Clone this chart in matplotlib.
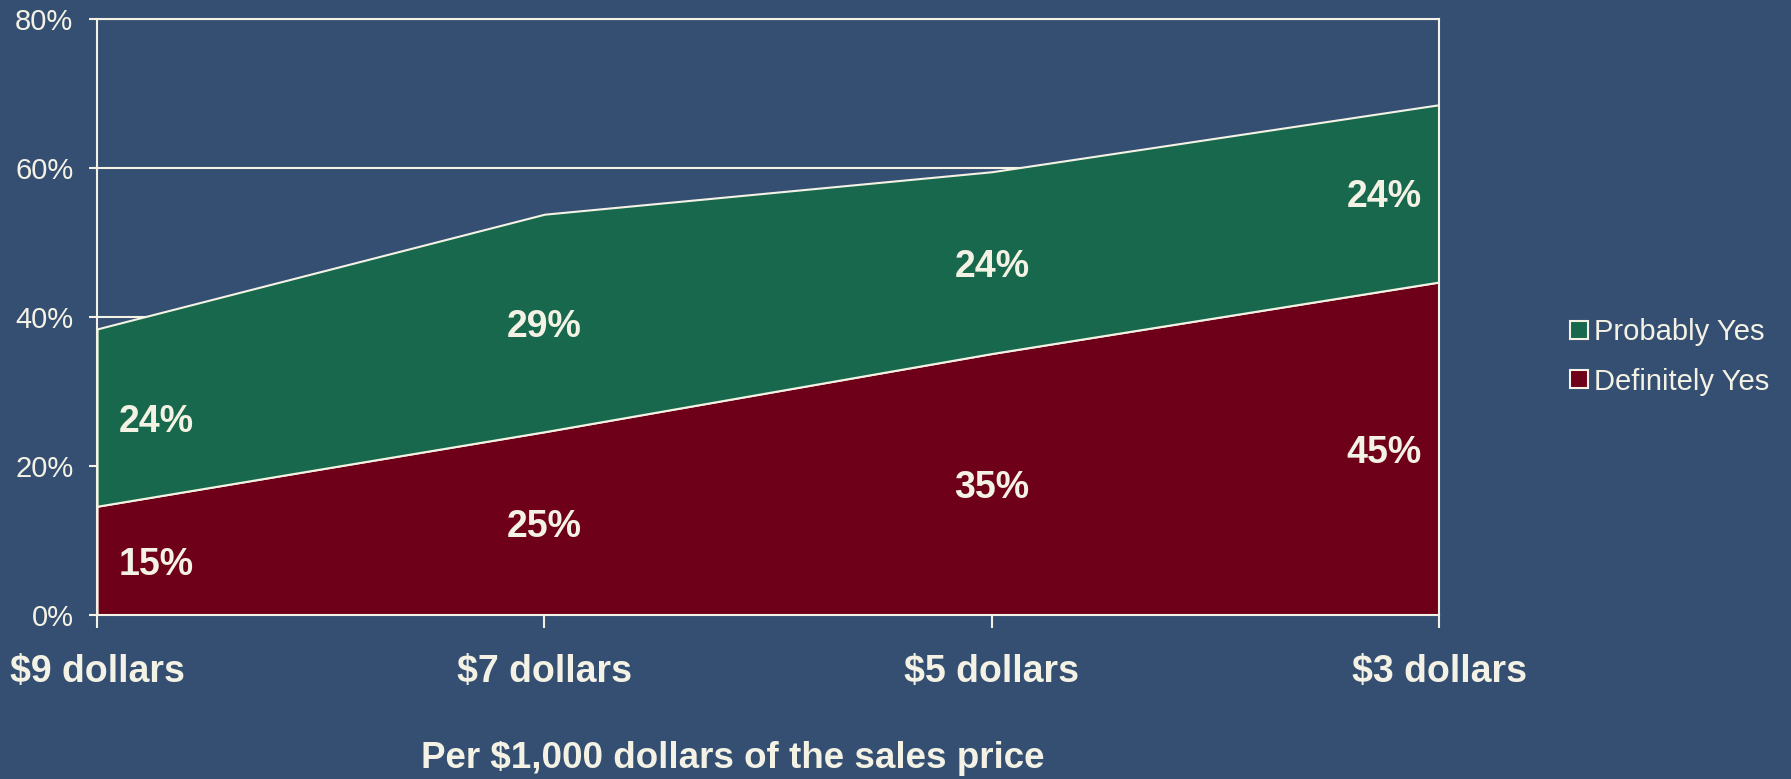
import matplotlib.pyplot as plt
import numpy as np

plt.rcParams['font.family'] = ['Liberation Sans', 'DejaVu Sans']

categories = ["$9 dollars", "$7 dollars", "$5 dollars", "$3 dollars"]
definitely_yes = [14.6, 24.6, 35.1, 44.7]
probably_yes = [23.8, 29.2, 24.4, 23.8]
series_names = ["Definitely Yes", "Probably Yes"]
y_ticks = [0, 20, 40, 60, 80]

BG = "#354F73"
RED = "#6E0019"
GREEN = "#17684D"
TXT = "#F4F2E4"

fig = plt.figure(figsize=(17.91, 7.79), dpi=100, facecolor=BG)
ax = fig.add_axes([0.0542, 0.2105, 0.7494, 0.7651])
ax.set_facecolor(BG)

x = np.arange(len(categories))
ax.stackplot(x, definitely_yes, probably_yes, colors=[RED, GREEN],
             edgecolor=TXT, linewidth=1.5, zorder=2)

ax.set_xlim(0, len(categories) - 1)
ax.set_ylim(0, 80)
ax.set_yticks(y_ticks)
ax.set_yticklabels([f"{v}%" for v in y_ticks])
ax.set_xticks(x)
ax.set_xticklabels(categories, fontsize=27, fontweight="bold")
for g in y_ticks:
    ax.axhline(g, color=TXT, lw=1.5, zorder=1)

for s in ax.spines.values():
    s.set_color(TXT)
    s.set_linewidth(1.5)
    s.set_zorder(3)
ax.tick_params(axis="y", colors=TXT, labelsize=21, length=6, width=1.5, pad=11)
ax.tick_params(axis="x", colors=TXT, length=9, width=1.5, pad=19)

# data labels, inset at the two ends
label_x = [0.133, 1.0, 2.0, 2.877]
for i in range(len(categories)):
    d = definitely_yes[i]
    p = probably_yes[i]
    ax.text(label_x[i], d / 2, f"{round(d)}%", color=TXT, fontsize=27,
            fontweight="bold", ha="center", va="center_baseline", zorder=4)
    ax.text(label_x[i], d + p / 2, f"{round(p)}%", color=TXT, fontsize=27,
            fontweight="bold", ha="center", va="center_baseline", zorder=4)

handles = [plt.Rectangle((0, 0), 1, 1, facecolor=GREEN, edgecolor=TXT, lw=1.5),
           plt.Rectangle((0, 0), 1, 1, facecolor=RED, edgecolor=TXT, lw=1.5)]
leg = fig.legend(handles, [series_names[1], series_names[0]], loc="center left",
                 bbox_to_anchor=(1570 / 1791, 1 - 357 / 779), frameon=False,
                 borderpad=0, borderaxespad=0,
                 fontsize=21, handlelength=0.6, handleheight=0.6,
                 handletextpad=0.22, labelspacing=0.72, labelcolor=TXT)

fig.text(733 / 1791, 1 - 759 / 779, "Per $1,000 dollars of the sales price",
         color=TXT, fontsize=26.5, fontweight="bold", ha="center", va="center")

fig.savefig("out.png", dpi=100, facecolor=BG)
